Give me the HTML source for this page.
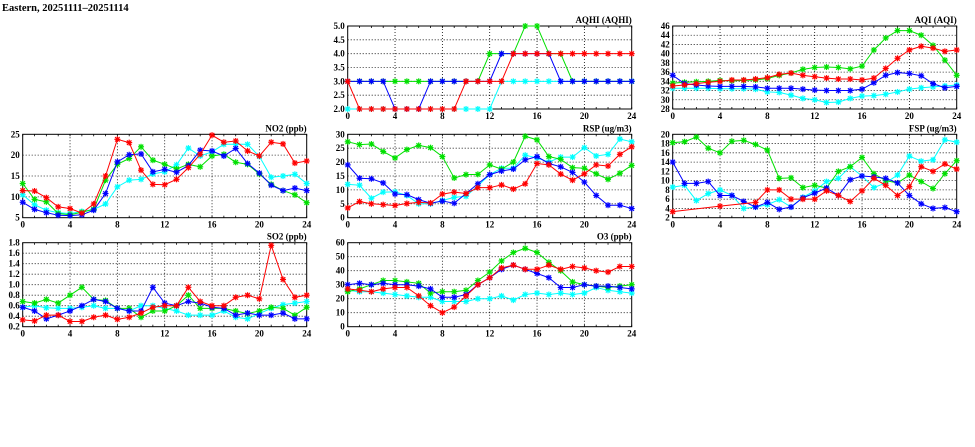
<!DOCTYPE html>
<html><head><meta charset="utf-8"><style>
html,body{margin:0;padding:0;background:#fff;}
svg{display:block;}
text{font-family:"Liberation Serif",serif;font-weight:bold;fill:#000;}
</style></head><body>
<svg id="c" width="975" height="447" viewBox="0 0 975 447" xmlns="http://www.w3.org/2000/svg">
<rect width="975" height="447" fill="#fff"/>
<text x="2" y="11" font-size="10.5">Eastern, 20251111–20251114</text>
</svg>
<script>
const hours=[0,1,2,3,4,5,6,7,8,9,10,11,12,13,14,15,16,17,18,19,20,21,22,23,24];
const xTicks=[0,4,8,12,16,20,24];
const seriesColors=["#ff0000","#00e000","#0000ff","#00ffff"];
const seriesNames=["red","green","blue","cyan"];

const aqhiRed=[3,2,2,2,2,2,2,2,2,2,3,3,3,3,4,4,4,4,4,4,4,4,4,4,4];
const aqhiGreen=[3,3,3,3,3,3,3,3,3,3,3,3,4,4,4,5,5,4,4,3,3,3,3,3,3];
const aqhiBlue=[3,3,3,3,2,2,2,3,3,3,3,3,3,4,4,4,4,4,3,3,3,3,3,3,3];
const aqhiCyan=[2,2,2,2,2,2,2,2,2,2,2,2,2,3,3,3,3,3,3,3,3,3,3,3,3];
const aqhiTicks=[2.0,2.5,3.0,3.5,4.0,4.5,5.0];

const aqiRed=[33,33.2,33.5,33.8,34,34.3,34.3,34.5,34.8,35.5,35.8,35.3,35,34.7,34.5,34.5,34.3,34.7,36.8,39,40.8,41.6,41.2,40.5,40.8];
const aqiGreen=[33.6,33.8,33.9,34,34.2,34.1,34.2,34.3,34.6,35.3,35.8,36.6,37,37.1,37,36.7,37.3,40.8,43.4,45,45,44,41.8,38.6,35.3];
const aqiBlue=[35.3,33.5,33.2,33,32.9,32.9,32.9,32.8,32.5,32.5,32.5,32.3,32.1,32,32,32,32.3,33.7,35.3,35.9,35.7,35.2,33.5,32.6,32.9];
const aqiCyan=[32.5,32.5,32.5,32.5,32.4,32.4,32.4,32.3,31.7,31.6,31,30.3,30,29.4,29.5,30.3,30.8,30.9,31.2,31.7,32.3,32.6,32.8,33,33.2];
const aqiTicks=[28,30,32,34,36,38,40,42,44,46];

const no2Red=[11.5,11.4,9.8,7.6,7.2,6.1,8.3,15,23.8,23,16.4,13,12.9,14.2,17,20.2,24.8,23.1,23.4,21,19.8,23.1,22.7,18.1,18.6];
const no2Green=[13.2,9.4,8.8,6,5.7,6.3,7,14,17.8,19.2,22,18.8,17.8,16.7,17.8,17.2,19.8,20.2,18.3,17.8,15.5,13,11.5,10.5,8.6];
const no2Blue=[8.7,7,6.2,5.6,5.5,5.7,6.8,10.8,18.4,20.1,20.3,16,16.6,15.9,17.5,21.2,21,19.8,21.6,18,15.7,12.8,11.5,12.1,11.5];
const no2Cyan=[10.5,8.1,6.8,6.2,6,6.5,7,8.3,12.4,14,14.2,15.5,16,17.7,21.7,19.8,20.8,22.6,22.6,22.6,19.7,14.7,15,15.4,13.2];
const no2Ticks=[5,10,15,20,25];

const rspRed=[3.5,5.8,5,4.7,4.4,5.1,5.5,5.3,8.5,9.2,8.7,10.8,10.8,11.8,10.3,12.2,19.5,19,15.7,13.5,15.8,19,18.6,22.8,25.5];
const rspGreen=[27.3,26.3,26.5,23.8,21.5,24.5,26,25.2,22,14.3,15.5,15.6,19,17.5,20,29.3,28,22,21,18,17.8,15.8,13.8,16,18.8];
const rspBlue=[19,14.2,14,12.5,8.5,8.3,6.5,5.2,6,5.2,8.7,12.2,15.5,16.8,17.5,20.8,22,19.5,18.3,16.3,12.8,8,4.5,4.5,3.3];
const rspCyan=[12,11.7,7,9.2,9.3,8,5,5,6.2,7.3,7.7,11.5,15.5,17.8,17.8,22.5,21.5,20,21.8,21.8,25.2,22.2,22.8,28.3,27.3];
const rspTicks=[0,5,10,15,20,25,30];

const fspRed=[3.3,null,null,null,4.5,null,null,5.3,8,8,6,6,6,7.8,6.8,5.5,7.8,10.5,9,6.8,8.7,13,12,13.6,12.5];
const fspGreen=[18.2,18.4,19.4,17,16,18.5,18.7,17.8,16.6,10.5,10.6,8.5,9,8.4,12,13,15,11.5,10,9.5,11.2,9.8,8.3,11.5,14.3];
const fspBlue=[14,9.4,9.4,9.8,6.8,6.8,5.5,4.3,5.3,3.8,4.3,6.3,7.3,8.4,6.8,10.2,11,10.8,10.5,9.5,6.8,5,4,4.2,3.3];
const fspCyan=[8.6,9,5.7,7.2,8,6.8,4,4.3,4.8,5.9,4.3,6.4,7.8,9.8,10.5,13,11,8.5,9.5,11.2,15.3,14.2,14.5,18.8,18.3];
const fspTicks=[2,4,6,8,10,12,14,16,18,20];

const so2Red=[.33,.31,.42,.42,.3,.3,.38,.42,.34,.38,.46,.57,.6,.6,.95,.68,.6,.6,.76,.8,.73,1.75,1.1,.76,.8];
const so2Green=[.68,.65,.72,.65,.8,.95,.72,.7,.55,.55,.38,.5,.5,.6,.8,.55,.55,.55,.5,.45,.5,.57,.55,.42,.57];
const so2Blue=[.57,.5,.35,.42,.5,.6,.72,.68,.55,.5,.5,.95,.65,.6,.68,.65,.57,.55,.42,.46,.42,.42,.46,.35,.35];
const so2Cyan=[.57,.6,.56,.55,.55,.57,.6,.55,.55,.5,.6,.6,.55,.5,.42,.42,.42,.5,.38,.35,.45,.55,.62,.65,.68];
const so2Ticks=[0.2,0.4,0.6,0.8,1.0,1.2,1.4,1.6,1.8];

const o3Red=[27,26,25,27,28,28,22,15,10,14,22,30,35,42,44,41,41,44,41,43,42,40,39,43,43];
const o3Green=[25,27,30,33,33,32,31,24,25,25,26,33,39,47,53,56,53,46,40,32,30,29,28,29,30];
const o3Blue=[30,31,30,31,30,30,29,27,21,21,23,30,35,41,44,41,38,35,28,28,30,29,29,28,27];
const o3Cyan=[26,25,25,24,23,22,21,21,18,18,18,20,20,22,19,23,24,23,24,23,24,28,26,25,24];
const o3Ticks=[0,10,20,30,40,50,60];

const NS="http://www.w3.org/2000/svg";
const svg=document.getElementById('c');
function mk(tag,attrs,parent){const e=document.createElementNS(NS,tag);for(const k in attrs)e.setAttribute(k,attrs[k]);(parent||svg).appendChild(e);return e;}

const panels=[
 {id:"aqhi",title:"AQHI (AQHI)",x0:347.7,x1:631.7,y0:26,y1:109,ticks:aqhiTicks,dec:1,series:[aqhiRed,aqhiGreen,aqhiBlue,aqhiCyan]},
 {id:"aqi",title:"AQI (AQI)",x0:672.7,x1:956.7,y0:26,y1:109,ticks:aqiTicks,dec:0,series:[aqiRed,aqiGreen,aqiBlue,aqiCyan]},
 {id:"no2",title:"NO2 (ppb)",x0:22.7,x1:306.7,y0:134.3,y1:217.7,ticks:no2Ticks,dec:0,series:[no2Red,no2Green,no2Blue,no2Cyan]},
 {id:"rsp",title:"RSP (ug/m3)",x0:347.7,x1:631.7,y0:134.3,y1:217.7,ticks:rspTicks,dec:0,series:[rspRed,rspGreen,rspBlue,rspCyan]},
 {id:"fsp",title:"FSP (ug/m3)",x0:672.7,x1:956.7,y0:134.3,y1:217.7,ticks:fspTicks,dec:0,series:[fspRed,fspGreen,fspBlue,fspCyan]},
 {id:"so2",title:"SO2 (ppb)",x0:22.7,x1:306.7,y0:242.7,y1:326.7,ticks:so2Ticks,dec:1,series:[so2Red,so2Green,so2Blue,so2Cyan]},
 {id:"o3",title:"O3 (ppb)",x0:347.7,x1:631.7,y0:242.7,y1:326.7,ticks:o3Ticks,dec:0,series:[o3Red,o3Green,o3Blue,o3Cyan]}
];
const drawOrder=[3,1,2,0];

panels.forEach(p=>{
 const g=mk('g',{});
 
 
 const ymin=p.ticks[0],ymax=p.ticks[p.ticks.length-1];
 const sx=v=>p.x0+(v-0)/(24-0)*(p.x1-p.x0);
 const sy=v=>p.y1-(v-ymin)/(ymax-ymin)*(p.y1-p.y0);
 xTicks.forEach(t=>{
  if(t>0&&t<24){const l=mk('line',{x1:sx(t),x2:sx(t),y1:p.y0,y2:p.y1,stroke:'#000','stroke-width':0.8,'stroke-dasharray':'1,2'},g);
   }
  const tx=mk('text',{x:sx(t),y:p.y1+10,'font-size':9,'text-anchor':'middle'},g);
  tx.textContent=t;
  
  
 });
 hours.forEach(h=>{
  mk('line',{x1:sx(h),x2:sx(h),y1:p.y1,y2:p.y1-2,stroke:'#000','stroke-width':0.8},g);
  mk('line',{x1:sx(h),x2:sx(h),y1:p.y0,y2:p.y0+2,stroke:'#000','stroke-width':0.8},g);
 });
 p.ticks.forEach(t=>{
  if(t>ymin&&t<ymax){const l=mk('line',{x1:p.x0,x2:p.x1,y1:sy(t),y2:sy(t),stroke:'#000','stroke-width':0.8,'stroke-dasharray':'1,2'},g);
   }
  const tx=mk('text',{x:p.x0-3,y:sy(t)+3,'font-size':9,'text-anchor':'end'},g);
  tx.textContent=t.toFixed(p.dec);
  
  
 });
 const fr=mk('rect',{x:p.x0,y:p.y0,width:p.x1-p.x0,height:p.y1-p.y0,fill:'none',stroke:'#000','stroke-width':1},g);
 
 
 const tt=mk('text',{x:p.x1,y:p.y0-3,'font-size':9,'text-anchor':'end'},g);
 tt.textContent=p.title;
 
 
 drawOrder.forEach(si=>{
  const arr=p.series[si];
  const col=seriesColors[si];
  const pts=[];
  arr.forEach((v,i)=>{if(v!==null)pts.push([sx(hours[i]),sy(v)]);});
  const pl=mk('polyline',{points:pts.map(q=>q.join(',')).join(' '),fill:'none',stroke:col,'stroke-width':1},g);
  
  
  pts.forEach(q=>{
   const m=mk('g',{stroke:col,'stroke-width':1.2},g);
   
   
   const r=3;
   mk('line',{x1:q[0]-r,x2:q[0]+r,y1:q[1],y2:q[1]},m);
   mk('line',{x1:q[0],x2:q[0],y1:q[1]-r,y2:q[1]+r},m);
   mk('line',{x1:q[0]-r*0.75,x2:q[0]+r*0.75,y1:q[1]-r*0.75,y2:q[1]+r*0.75},m);
   mk('line',{x1:q[0]-r*0.75,x2:q[0]+r*0.75,y1:q[1]+r*0.75,y2:q[1]-r*0.75},m);
  });
 });
});
</script>
</body></html>
